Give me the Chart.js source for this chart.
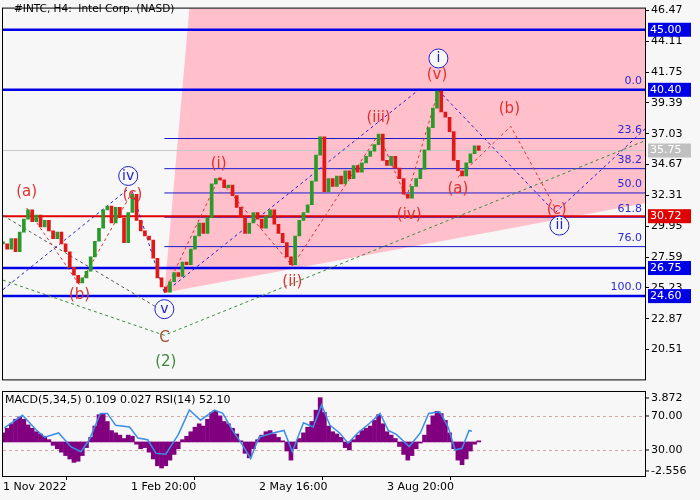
<!DOCTYPE html>
<html><head><meta charset="utf-8">
<script src="https://cdn.jsdelivr.net/npm/chart.js@4.4.1/dist/chart.umd.min.js"></script>
<style>
html,body{margin:0;padding:0;background:#f7f7f7;width:700px;height:500px;overflow:hidden;font-family:"DejaVu Sans",sans-serif}
#w1{position:absolute;left:0;top:0;width:700px;height:388px}
#w2{position:absolute;left:0;top:388px;width:700px;height:112px}
</style></head><body>
<div id="w1"><canvas id="c1" width="700" height="388"></canvas></div>
<div id="w2"><canvas id="c2" width="700" height="112"></canvas></div>
<script>
// ---- data ----
const STEP_DAYS = 3;
const closes = [28.6,28.2,29.0,28.0,29.5,30.5,31.2,30.3,30.8,29.9,30.4,29.6,29.0,29.5,28.6,28.0,26.8,26.2,25.6,26.0,26.5,27.6,28.8,29.8,31.2,31.5,30.2,31.4,30.6,28.7,31.0,32.4,30.4,29.6,29.2,28.9,27.5,26.0,25.3,24.9,25.7,26.4,26.1,27.2,27.0,28.2,29.2,30.2,29.4,30.6,33.2,33.6,33.5,32.9,33.1,32.3,31.4,30.6,29.4,30.2,31.0,30.5,29.8,30.7,31.2,30.1,29.4,28.7,27.6,27.0,29.2,30.4,31.0,31.6,33.4,35.4,36.8,32.6,33.6,33.0,33.8,33.2,34.2,33.6,34.6,34.1,34.8,35.3,35.7,36.2,37.0,35.0,34.6,35.3,34.4,33.6,32.4,32.1,33.0,33.6,34.3,35.8,37.5,39.0,40.3,38.7,38.3,37.2,35.0,34.2,33.8,34.8,35.5,36.1,35.75];
const macdHist = [0.8,1.2,1.6,2.0,2.2,2.0,1.5,1.2,0.9,0.7,0.5,0.2,-0.3,-0.6,-0.9,-1.2,-1.5,-1.8,-1.7,-1.2,-0.5,0.4,1.4,2.4,2.5,1.8,1.0,0.8,0.6,0.3,0.6,0.5,-0.2,-0.6,-0.5,-0.9,-1.5,-2.1,-2.3,-2.1,-1.6,-1.1,-0.6,0.2,0.5,0.9,1.3,1.6,1.4,2.0,2.6,2.7,2.3,1.8,1.6,1.2,0.7,0.1,-1.0,-1.4,-0.6,0.2,0.6,0.9,1.0,0.7,0.4,0.1,-0.8,-1.6,-0.6,0.3,0.8,1.3,1.8,2.8,3.9,2.6,1.4,0.9,0.7,0.4,-0.5,-0.7,0.2,0.6,1.0,1.2,1.4,1.9,2.4,1.6,0.9,0.6,0.3,-0.4,-1.1,-1.6,-1.2,-0.6,-0.1,0.6,1.5,2.3,2.7,2.5,1.9,0.8,-0.6,-1.6,-2.0,-1.5,-0.8,-0.2,0.1];
const rsiDays = [1,14,24,30,40,49,56,62,70,75,81,91,97,104,110,117,126,134,142,152,158,165,171,178,184,194,202,208,216,223,229,235,242,248,255,264,271,277,283,292,300,306,314,320,325,330,335,337];
const rsiVals = [56,71,53.5,45,50,33.5,28,42,73,73,59,57,44,42,26,25,48,77,65,77,73,53,39,20,45,50,53,28,62,57,83,59,50,38,50,62,73,53,48,34,50,73,75,57,30,32,53,52];
const priceTicks = [46.47,44.11,41.75,39.39,37.03,34.67,32.31,29.95,27.59,25.23,22.87,20.51];
const levelVals = [45.00,40.40,30.72,26.75,24.60];
const levelColors = ['#0000e6','#0000e6','#e00000','#0000e6','#0000e6'];
const lastPrice = 35.75;
const fibPct = ['0.0','23.6','38.2','50.0','61.8','76.0','100.0'];
const fibVals = [40.40,36.67,34.36,32.50,30.64,28.39,24.60];
const fibStartDay = 116;
const dateTickDays = [0,92,184,276];
const dateTickLabels = ['1 Nov 2022','1 Feb 20:00','2 May 16:00','3 Aug 20:00'];
const xMaxDay = 461.5;
const pinkZone = [[116,24.86],[134,46.62],[461.5,46.62],[461.5,31.72]];
const waveLines = [
 {c:'#e03030',pts:[[17,31.35],[55,25.45],[93,32.6]]},
 {c:'#2222cc',pts:[[93,32.6],[116,24.86]]},
 {c:'#e03030',pts:[[116,24.86],[155,33.6],[208,26.9],[270,37.0],[290,32.1],[313,40.35]]},
 {c:'#2222cc',pts:[[313,40.35],[397,31.0]]},
 {c:'#2222cc',pts:[[397,31.0],[461.5,37.4]]},
 {c:'#e03030',pts:[[327,33.7],[365,37.6],[397,31.35]]},
 {c:'#2222cc',pts:[[116,24.86],[300,40.5]]},
 {c:'#2222cc',pts:[[0,25.1],[90,32.8]]},
 {c:'#555555',pts:[[0,30.77],[116,23.39]]},
 {c:'#3a8a3a',pts:[[0,25.82],[116,21.6],[461.5,36.5]]}
];
const waveLabels = [
 ['(a)',17,32.6,'r'],['(b)',55,24.7,'r'],['(c)',93,32.3,'r'],['iv',90,33.8,'o'],['v',116,23.6,'o'],
 ['C',116,21.4,'b'],['(2)',117,19.55,'g'],['(i)',155,34.7,'r'],['(ii)',208,25.7,'r'],['(iii)',270,38.2,'r'],
 ['(iv)',292,30.8,'r'],['(v)',312,41.5,'r'],['i',313,42.8,'o'],['(a)',327,32.8,'r'],['(b)',364,38.9,'r'],
 ['(c)',398,31.2,'r'],['ii',400,30.0,'o']
];
// ---- build ----
const candleData = closes.map((c,i)=>({x:i*STEP_DAYS, y:[i?closes[i-1]:c, c]}));
const histData = macdHist.map((v,i)=>({x:i*STEP_DAYS, y:v}));
const rsiData = rsiDays.map((d,i)=>({x:d,y:rsiVals[i]}));
const FONT = '"DejaVu Sans", sans-serif';
const datasets = [];
levelVals.forEach((v,i)=>datasets.push({type:'line',data:[{x:0,y:v},{x:xMaxDay,y:v}],borderColor:levelColors[i],borderWidth:i==2?2:2.5,pointRadius:0,order:5}));
fibVals.slice(1,6).forEach(v=>datasets.push({type:'line',data:[{x:fibStartDay,y:v},{x:xMaxDay,y:v}],borderColor:'#1a1ad0',borderWidth:1,pointRadius:0,order:6}));
datasets.push({type:'line',data:[{x:0,y:lastPrice},{x:xMaxDay,y:lastPrice}],borderColor:'#c8c8c8',borderWidth:1,pointRadius:0,order:7});
waveLines.forEach(w=>datasets.push({type:'line',data:w.pts.map(p=>({x:p[0],y:p[1]})),borderColor:w.c,borderWidth:1,borderDash:[3,3],pointRadius:0,order:3}));
datasets.push({type:'bar',data:candleData,backgroundColor:ctx=>{const r=ctx.raw;return r&&r.y[1]>=r.y[0]?'#2a9a2a':'#e01818';},barThickness:3,minBarLength:2,order:1});

const zonePlugin={id:'zone',beforeDatasetsDraw(ch){const {ctx,scales:{x,y}}=ch;ctx.save();ctx.beginPath();
 pinkZone.forEach((p,i)=>{const px=x.getPixelForValue(p[0]),py=y.getPixelForValue(p[1]);i?ctx.lineTo(px,py):ctx.moveTo(px,py);});
 ctx.closePath();ctx.fillStyle='#ffc0cb';ctx.fill();ctx.restore();}};
const mainDeco={id:'mainDeco',afterDraw(ch){const {ctx,chartArea:a,scales:{x,y}}=ch;ctx.save();
 ctx.strokeStyle='#000';ctx.lineWidth=1;ctx.strokeRect(a.left-0.5,a.top-0.5,a.right-a.left+1,a.bottom-a.top+1);
 ctx.font='11px '+FONT;ctx.fillStyle='#2a2ad0';ctx.textAlign='right';ctx.textBaseline='bottom';
 fibVals.forEach((v,i)=>ctx.fillText(fibPct[i],a.right-3,y.getPixelForValue(v)-3));
 waveLabels.forEach(l=>{const px=x.getPixelForValue(l[1]),py=y.getPixelForValue(l[2]);
  ctx.textAlign='center';ctx.textBaseline='middle';
  if(l[3]=='o'){ctx.font='14px '+FONT;ctx.fillStyle='#f7f7f7';ctx.beginPath();ctx.arc(px,py,9.5,0,Math.PI*2);ctx.fill();ctx.strokeStyle='#2222cc';ctx.lineWidth=1;ctx.stroke();ctx.fillStyle='#2222cc';ctx.fillText(l[0],px,py);}
  else{ctx.font='15px '+FONT;ctx.fillStyle=l[3]=='r'?'#e03030':l[3]=='g'?'#3a8a3a':'#a05030';ctx.fillText(l[0],px,py);}
 });
 const boxes=levelVals.map((v,i)=>[v,levelColors[i]]).concat([[lastPrice,'#c0c0c0']]);
 ctx.font='11px '+FONT;ctx.textAlign='left';ctx.textBaseline='middle';
 boxes.forEach(b=>{const py=y.getPixelForValue(b[0]);ctx.fillStyle=b[1];ctx.fillRect(a.right+3,py-7,43,14);ctx.fillStyle='#fff';ctx.fillText(b[0].toFixed(2),a.right+5,py);});
 ctx.fillStyle='#000';ctx.font='10.5px '+FONT;ctx.textAlign='left';ctx.textBaseline='top';
 ctx.fillText('#INTC, H4:  Intel Corp. (NASD)',14,4);
 ctx.restore();}};

new Chart(document.getElementById('c1'),{data:{datasets},plugins:[zonePlugin,mainDeco],
 options:{responsive:false,animation:false,plugins:{legend:{display:false},tooltip:{enabled:false}},
 layout:{padding:{left:3,top:3,right:0,bottom:0}},
 scales:{x:{type:'linear',min:0,max:xMaxDay,display:false,offset:false},
  y:{position:'right',min:18.22,max:46.62,afterFit(s){s.width=55;},
   afterBuildTicks(s){s.ticks=priceTicks.map(v=>({value:v}));},
   ticks:{font:{family:FONT,size:11},color:'#000',padding:2,callback:v=>v.toFixed(2)},
   grid:{drawOnChartArea:false,tickLength:4,color:'#000'},border:{color:'#000'}}}}});

const panelDeco={id:'panelDeco',beforeDatasetsDraw(ch){const {ctx,chartArea:a,scales}=ch;const rs=scales.yRsi;ctx.save();ctx.strokeStyle='#d0a8a8';ctx.setLineDash([3,3]);ctx.lineWidth=1;
 [70,30].forEach(v=>{const py=Math.round(rs.getPixelForValue(v))+0.5;ctx.beginPath();ctx.moveTo(a.left,py);ctx.lineTo(a.right,py);ctx.stroke();});ctx.restore();},
 afterDraw(ch){const {ctx,chartArea:a,scales}=ch;const h=scales.yHist,rs=scales.yRsi;ctx.save();ctx.strokeStyle='#000';ctx.lineWidth=1;
 ctx.strokeRect(a.left-0.5,a.top-0.5,a.right-a.left+1,a.bottom-a.top+1);
 ctx.font='11px '+FONT;ctx.fillStyle='#000';ctx.textAlign='left';ctx.textBaseline='middle';
 [[h,3.872,'3.872'],[rs,70,'70.00'],[rs,30,'30.00'],[h,-2.556,'-2.556']].forEach(t=>{const py=t[0].getPixelForValue(t[1]);ctx.beginPath();ctx.moveTo(a.right,py);ctx.lineTo(a.right+4,py);ctx.stroke();ctx.fillText(t[2],a.right+6,py);});
 ctx.textBaseline='top';ctx.fillText('MACD(5,34,5) 0.109 0.027 RSI(14) 52.10',5,a.top+3);ctx.restore();}};

new Chart(document.getElementById('c2'),{data:{datasets:[
  {type:'line',data:rsiData,yAxisID:'yRsi',borderColor:'#3a8ee6',borderWidth:1.5,pointRadius:0,tension:0,order:1},
  {type:'bar',data:histData,yAxisID:'yHist',backgroundColor:'#800080',barThickness:4,order:2}]},
 plugins:[panelDeco],
 options:{responsive:false,animation:false,plugins:{legend:{display:false},tooltip:{enabled:false}},
 layout:{padding:{left:3,top:4,right:55,bottom:0}},
 scales:{x:{type:'linear',min:0,max:xMaxDay,offset:false,
   afterBuildTicks(s){s.ticks=dateTickDays.map(v=>({value:v}));},
   afterFit(s){s.height=24;},
   ticks:{font:{family:FONT,size:11},color:'#000',maxRotation:0,autoSkip:false,align:'start',padding:1,callback:(v)=>dateTickLabels[dateTickDays.indexOf(v)]},
   grid:{drawOnChartArea:false,tickLength:4,color:'#000'},border:{color:'#000'}},
  yHist:{type:'linear',axis:'y',display:false,min:-3.0,max:4.4},
  yRsi:{type:'linear',axis:'y',display:false,min:-0.6,max:98.2}}}});
</script></body></html>
